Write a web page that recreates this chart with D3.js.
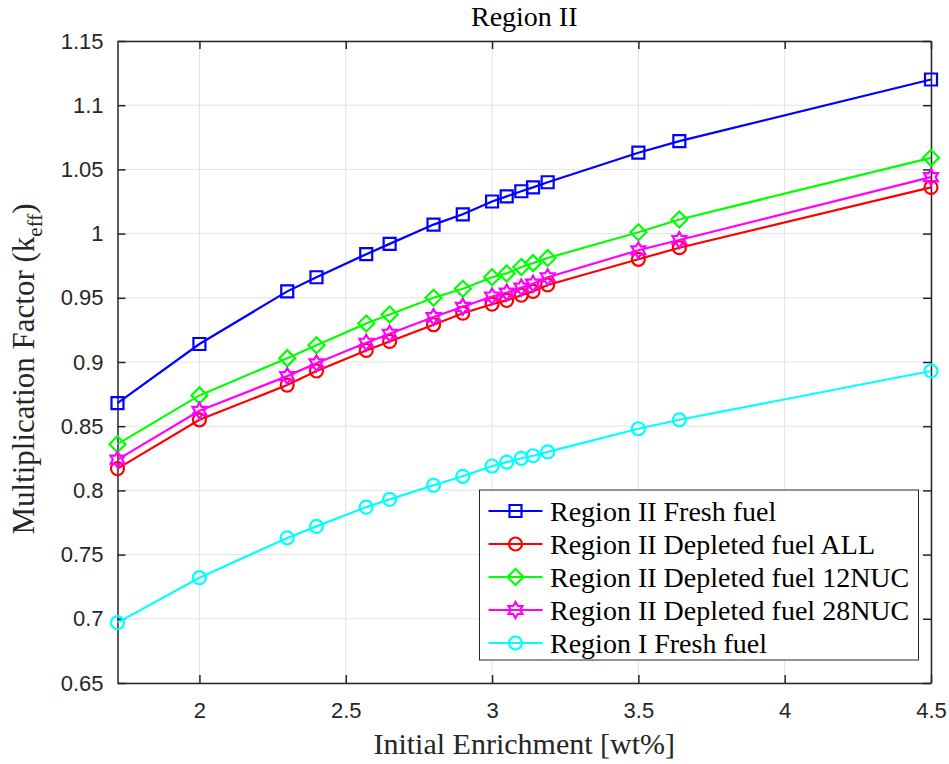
<!DOCTYPE html>
<html>
<head>
<meta charset="utf-8">
<script src="https://cdn.jsdelivr.net/npm/d3@7"></script>
<style>
  body { margin: 0; background: #fff; }
</style>
</head>
<body>
<div id="chart"></div>
<script>
// ============ DATA ============
const enrichment = [1.72, 2.0, 2.3, 2.4, 2.57, 2.65, 2.8, 2.9, 3.0, 3.05, 3.1, 3.14, 3.19, 3.5, 3.64, 4.5];

const freshII    = [0.868, 0.914, 0.955, 0.966, 0.984, 0.992, 1.007, 1.015, 1.025, 1.029, 1.033, 1.036, 1.040, 1.063, 1.072, 1.120];
const depAll     = [0.817, 0.855, 0.882, 0.893, 0.909, 0.916, 0.929, 0.938, 0.945, 0.948, 0.952, 0.955, 0.960, 0.980, 0.989, 1.036];
const dep12      = [0.836, 0.874, 0.903, 0.913, 0.930, 0.937, 0.950, 0.957, 0.966, 0.969, 0.974, 0.977, 0.981, 1.001, 1.011, 1.059];
const dep28      = [0.824, 0.862, 0.889, 0.899, 0.915, 0.922, 0.935, 0.943, 0.951, 0.954, 0.958, 0.961, 0.966, 0.987, 0.995, 1.044];
const freshI     = [0.697, 0.732, 0.763, 0.772, 0.787, 0.793, 0.804, 0.811, 0.819, 0.822, 0.825, 0.827, 0.830, 0.848, 0.855, 0.893];

const seriesNames = [
    "Region II Fresh fuel",
    "Region II Depleted fuel ALL",
    "Region II Depleted fuel 12NUC",
    "Region II Depleted fuel 28NUC",
    "Region I Fresh fuel"
];
const seriesValues = [freshII, depAll, dep12, dep28, freshI];
const seriesColors = ["#0000ff", "#ff0000", "#00ff00", "#ff00ff", "#00ffff"];
const seriesMarkers = ["square", "circle", "diamond", "hexagram", "circle"];

const xTicks = [2, 2.5, 3, 3.5, 4, 4.5];
const yTicks = [0.65, 0.7, 0.75, 0.8, 0.85, 0.9, 0.95, 1, 1.05, 1.1, 1.15];

// ============ LAYOUT ============
const W = 949, H = 764;
const margin = {top: 41, right: 18, bottom: 81, left: 117.5};
const width = W - margin.left - margin.right;
const height = H - margin.top - margin.bottom;

const svg = d3.select("#chart")
    .append("svg")
    .attr("width", W)
    .attr("height", H)
    .append("g")
    .attr("transform", `translate(${margin.left},${margin.top})`);

const xScale = d3.scaleLinear().domain([1.72, 4.5]).range([0, width]);
const yScale = d3.scaleLinear().domain([0.65, 1.15]).range([height, 0]);

const axisColor = "#262626";
const tickFont = "'Liberation Sans', Arial, sans-serif";
const serif = "'Liberation Serif', 'Times New Roman', serif";

// Grid lines
svg.append("g")
    .selectAll("line")
    .data(xTicks)
    .enter()
    .append("line")
    .attr("x1", d => xScale(d))
    .attr("x2", d => xScale(d))
    .attr("y1", 0)
    .attr("y2", height)
    .attr("stroke", "#e3e3e3")
    .attr("stroke-width", 1);

svg.append("g")
    .selectAll("line")
    .data(yTicks)
    .enter()
    .append("line")
    .attr("x1", 0)
    .attr("x2", width)
    .attr("y1", d => yScale(d))
    .attr("y2", d => yScale(d))
    .attr("stroke", "#e3e3e3")
    .attr("stroke-width", 1);

// Axes with inward ticks on all four sides
function styleAxis(g) {
    g.select(".domain").attr("stroke", axisColor).attr("stroke-width", 1.5);
    g.selectAll(".tick line").attr("stroke", axisColor).attr("stroke-width", 1.5);
    g.selectAll(".tick text")
        .attr("fill", axisColor)
        .style("font-family", tickFont)
        .style("font-size", "22px");
}

svg.append("g")
    .attr("transform", `translate(0,${height})`)
    .call(d3.axisBottom(xScale).tickValues(xTicks).tickFormat(d3.format("")).tickSizeInner(-8).tickSizeOuter(0).tickPadding(19))
    .call(styleAxis);

svg.append("g")
    .call(d3.axisTop(xScale).tickValues(xTicks).tickFormat("").tickSizeInner(-8).tickSizeOuter(0))
    .call(styleAxis);

svg.append("g")
    .call(d3.axisLeft(yScale).tickValues(yTicks).tickFormat(d3.format("")).tickSizeInner(-8).tickSizeOuter(0).tickPadding(14))
    .call(styleAxis);

svg.append("g")
    .attr("transform", `translate(${width},0)`)
    .call(d3.axisRight(yScale).tickValues(yTicks).tickFormat("").tickSizeInner(-8).tickSizeOuter(0))
    .call(styleAxis);

// Title
svg.append("text")
    .attr("x", width / 2)
    .attr("y", -15)
    .attr("text-anchor", "middle")
    .style("font-family", serif)
    .style("font-size", "28px")
    .attr("fill", "#000")
    .text("Region II");

// X-axis label
svg.append("text")
    .attr("x", width / 2)
    .attr("y", height + 71)
    .attr("text-anchor", "middle")
    .style("font-family", serif)
    .style("font-size", "30px")
    .attr("fill", axisColor)
    .text("Initial Enrichment [wt%]");

// Y-axis label
const yLabel = svg.append("text")
    .attr("transform", "rotate(-90)")
    .attr("x", -328)
    .attr("y", -84)
    .attr("text-anchor", "middle")
    .style("font-family", serif)
    .style("font-size", "31px")
    .attr("fill", axisColor);
yLabel.append("tspan").text("Multiplication Factor (k");
yLabel.append("tspan").attr("dy", 8).style("font-size", "21px").text("eff");
yLabel.append("tspan").attr("dy", -8).text(")");

// Marker shapes
function markerPath(type) {
    if (type === "square") {
        const s = 6;
        return `M${-s},${-s}L${s},${-s}L${s},${s}L${-s},${s}Z`;
    }
    if (type === "diamond") {
        const s = 8;
        return `M0,${-s}L${s},0L0,${s}L${-s},0Z`;
    }
    if (type === "hexagram") {
        const R = 8, r = R / Math.sqrt(3);
        const pts = [];
        for (let k = 0; k < 12; k++) {
            const a = -Math.PI / 2 + k * Math.PI / 6;
            const rr = k % 2 === 0 ? R : r;
            pts.push([rr * Math.cos(a), rr * Math.sin(a)]);
        }
        return "M" + pts.map(p => p[0].toFixed(2) + "," + p[1].toFixed(2)).join("L") + "Z";
    }
    // circle
    const c = 6.5;
    return `M${c},0A${c},${c} 0 1,1 ${-c},0A${c},${c} 0 1,1 ${c},0Z`;
}

const line = d3.line()
    .x(d => xScale(d[0]))
    .y(d => yScale(d[1]));

// Draw each series
seriesValues.forEach((vals, i) => {
    const pts = enrichment.map((x, j) => [x, vals[j]]);
    svg.append("path")
        .datum(pts)
        .attr("fill", "none")
        .attr("stroke", seriesColors[i])
        .attr("stroke-width", 2.2)
        .attr("d", line);

    svg.append("g")
        .selectAll("path")
        .data(pts)
        .enter()
        .append("path")
        .attr("transform", d => `translate(${xScale(d[0])},${yScale(d[1])})`)
        .attr("d", markerPath(seriesMarkers[i]))
        .attr("fill", "none")
        .attr("stroke", seriesColors[i])
        .attr("stroke-width", 2.2);
});

// Legend
const legend = svg.append("g")
    .attr("transform", `translate(${479.5 - margin.left},${490 - margin.top})`);

legend.append("rect")
    .attr("x", 0)
    .attr("y", 0)
    .attr("width", 439)
    .attr("height", 170)
    .attr("fill", "#fff")
    .attr("stroke", axisColor)
    .attr("stroke-width", 1);

seriesNames.forEach((name, i) => {
    const ly = 21 + i * 33;
    legend.append("line")
        .attr("x1", 9)
        .attr("x2", 63)
        .attr("y1", ly)
        .attr("y2", ly)
        .attr("stroke", seriesColors[i])
        .attr("stroke-width", 2.2);
    legend.append("path")
        .attr("transform", `translate(36,${ly})`)
        .attr("d", markerPath(seriesMarkers[i]))
        .attr("fill", "none")
        .attr("stroke", seriesColors[i])
        .attr("stroke-width", 2.2);
    legend.append("text")
        .attr("x", 70.5)
        .attr("y", ly)
        .attr("dy", "0.35em")
        .style("font-family", serif)
        .style("font-size", "28px")
        .attr("fill", "#000")
        .text(name);
});
</script>
</body>
</html>
